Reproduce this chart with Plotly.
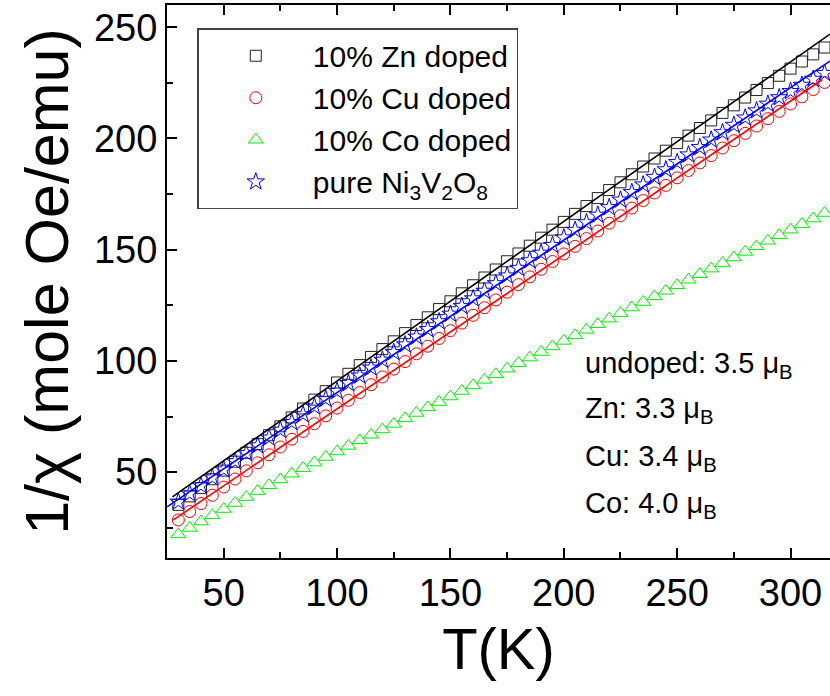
import plotly.graph_objects as go

# Temperature grid of the measurements (K)
T = [30, 35, 40, 45, 50, 55, 60, 65, 70, 75, 80, 85, 90, 95, 100, 105, 110, 115, 120, 125,
     130, 135, 140, 145, 150, 155, 160, 165, 170, 175, 180, 185, 190, 195, 200, 205, 210, 215,
     220, 225, 230, 235, 240, 245, 250, 255, 260, 265, 270, 275, 280, 285, 290, 295, 300, 305,
     310, 315]

# Inverse susceptibility 1/chi (mole Oe/emu)
zn_doped = [35.3, 39.1, 42.9, 46.8, 50.7, 54.7, 58.7, 62.6, 66.6, 70.6, 74.6, 78.6, 82.6, 86.4,
            90.3, 94.2, 98.1, 101.8, 105.3, 108.8, 112.5, 116.1, 119.6, 123.3, 126.8, 130.4,
            134.0, 137.5, 141.1, 144.8, 148.3, 151.8, 155.4, 159.0, 162.5, 166.1, 169.6, 173.2,
            176.8, 180.3, 183.9, 187.4, 191.0, 194.5, 197.9, 201.3, 204.7, 208.1, 211.5, 214.9,
            218.4, 221.8, 224.9, 228.2, 231.4, 234.6, 237.8, 240.9]
cu_doped = [28.5, 32.3, 35.9, 39.6, 43.3, 46.9, 50.6, 54.2, 57.8, 61.3, 64.8, 68.3, 71.8, 75.3,
            78.8, 82.3, 85.8, 89.3, 92.8, 96.3, 99.7, 103.2, 106.6, 110.1, 113.6, 117.0, 120.5,
            123.9, 127.4, 130.9, 134.3, 137.8, 141.2, 144.7, 148.1, 151.5, 155.0, 158.4, 161.9,
            165.3, 168.7, 172.1, 175.5, 178.9, 182.3, 185.6, 189.0, 192.3, 195.7, 199.0, 202.3,
            205.6, 208.9, 212.2, 215.5, 218.7, 222.0, 225.2]
co_doped = [22.0, 24.9, 27.8, 30.6, 33.4, 36.1, 38.8, 41.5, 44.1, 46.7, 49.3, 51.8, 54.3, 56.8,
            59.3, 61.8, 64.3, 66.8, 69.2, 71.7, 74.2, 76.6, 79.1, 81.5, 84.0, 86.5, 89.0, 91.5,
            94.0, 96.5, 99.0, 101.5, 104.0, 106.5, 109.0, 111.5, 114.0, 116.5, 119.0, 121.5,
            124.0, 126.5, 129.0, 131.5, 134.0, 136.5, 139.0, 141.5, 144.0, 146.5, 149.0, 151.5,
            154.0, 156.5, 159.0, 161.5, 164.0, 166.5]
pure = [36.6, 40.3, 43.9, 47.5, 51.1, 54.8, 58.4, 61.9, 65.4, 68.9, 72.4, 75.9, 79.4, 82.9,
        86.4, 89.9, 93.3, 96.9, 100.4, 103.9, 107.3, 110.8, 114.2, 117.7, 121.1, 124.6, 128.0,
        131.4, 134.8, 138.3, 141.7, 145.1, 148.5, 152.0, 155.4, 158.8, 162.2, 165.6, 169.0,
        172.4, 175.8, 179.2, 182.6, 186.0, 189.3, 192.7, 196.0, 199.4, 202.7, 206.0, 209.3,
        212.5, 215.5, 218.4, 221.2, 224.0, 226.7, 229.3]

# Curie-Weiss fit lines: end points (T, 1/chi)
fit_zn_T, fit_zn = [27.4, 317.4], [38.9, 246.9]
fit_pure_T, fit_pure = [25.0, 317.4], [34.4, 234.8]
fit_cu_T, fit_cu = [27.8, 314.0], [28.5, 226.5]

# Effective moments
moments = ["undoped: 3.5 μ<sub>B</sub>", "Zn: 3.3 μ<sub>B</sub>",
           "Cu: 3.4 μ<sub>B</sub>", "Co: 4.0 μ<sub>B</sub>"]

FONT = "Liberation Sans, Arial, sans-serif"

fig = go.Figure()

series = [
    ("10% Zn doped", zn_doped, "square-open", "#222222", 11),
    ("10% Cu doped", cu_doped, "circle-open", "#ff0000", 12),
    ("10% Co doped", co_doped, "triangle-up-open", "#00ee00", 13),
    ("pure Ni<sub>3</sub>V<sub>2</sub>O<sub>8</sub>", pure, "star-open", "#0000ff", 13),
]
for name, vals, sym, col, sz in series:
    fig.add_trace(go.Scatter(
        x=T, y=vals, mode="markers", name=name,
        marker=dict(symbol=sym, size=sz, color=col, line=dict(width=1, color=col)),
    ))

for xs, ys, col in [(fit_zn_T, fit_zn, "#000000"), (fit_pure_T, fit_pure, "#0000ff"),
                    (fit_cu_T, fit_cu, "#ff0000")]:
    fig.add_trace(go.Scatter(x=xs, y=ys, mode="lines", showlegend=False,
                             line=dict(color=col, width=1.6)))

ann_y = [0.349, 0.2676, 0.1808, 0.0958]
for txt, yy in zip(moments, ann_y):
    fig.add_annotation(x=0.628, y=yy, xref="paper", yref="paper", text=txt,
                       showarrow=False, xanchor="left", yanchor="middle",
                       font=dict(family=FONT, size=29, color="black"))

axis_common = dict(
    showline=True, linewidth=2, linecolor="black", showgrid=False, zeroline=False,
    ticks="inside", ticklen=10, tickwidth=2, tickcolor="black", dtick=50,
    minor=dict(dtick=25, ticks="inside", ticklen=6, tickwidth=2, tickcolor="black",
               showgrid=False),
    tickfont=dict(family=FONT, size=38, color="black"),
)

fig.update_layout(
    width=830, height=696,
    margin=dict(l=167, r=0, t=5, b=138),
    paper_bgcolor="white", plot_bgcolor="white",
    xaxis=dict(range=[25, 317.4], mirror="ticks", tick0=0,
               title=dict(text="T(K)", font=dict(family=FONT, size=58, color="black"),
                          standoff=16),
               **axis_common),
    yaxis=dict(range=[11.4, 260], mirror=False, tick0=0,
               title=dict(text="1/χ (mole Oe/emu)",
                          font=dict(family=FONT, size=61, color="black"), standoff=6),
               **axis_common),
    yaxis2=dict(range=[11.4, 260], overlaying="y", side="right", anchor="x",
                showline=False, showgrid=False, zeroline=False, showticklabels=False,
                ticks="inside", ticklen=8, tickwidth=2, tickcolor="black", dtick=50, tick0=0,
                minor=dict(dtick=25, ticks="inside", ticklen=5, tickwidth=2,
                           tickcolor="black")),
    legend=dict(x=0.0457, y=0.958, xanchor="left", yanchor="top",
                bordercolor="#444444", borderwidth=1.5, bgcolor="white",
                font=dict(family=FONT, size=30, color="black"),
                itemwidth=104),
    showlegend=True,
)

fig.write_html("out.html")
